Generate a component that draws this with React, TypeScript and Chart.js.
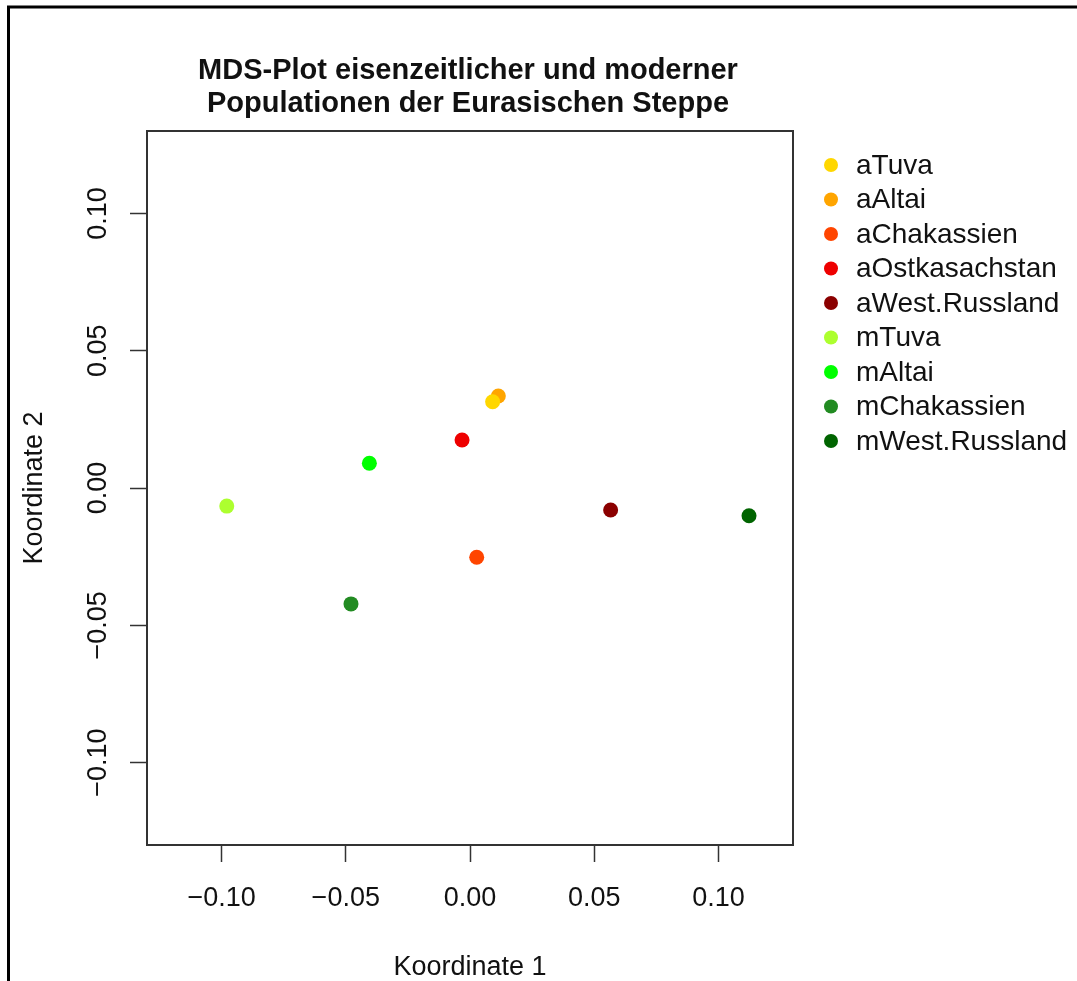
import React, { useEffect, useRef } from "react";
import { Chart, registerables } from "chart.js";

Chart.register(...registerables);

const categories = [
  "aTuva",
  "aAltai",
  "aChakassien",
  "aOstkasachstan",
  "aWest.Russland",
  "mTuva",
  "mAltai",
  "mChakassien",
  "mWest.Russland",
];
const xValues = [0.0091, 0.0114, 0.0027, -0.0032, 0.0566, -0.0979, -0.0405, -0.0479, 0.1123];
const yValues = [0.0314, 0.0335, -0.0252, 0.0175, -0.008, -0.0066, 0.009, -0.0422, -0.0101];
const colors = [
  "#FFD700",
  "#FFA500",
  "#FF4500",
  "#EE0000",
  "#8B0000",
  "#ADFF2F",
  "#00FF00",
  "#228B22",
  "#006400",
];
const xTickValues = [-0.1, -0.05, 0, 0.05, 0.1];
const yTickValues = [-0.1, -0.05, 0, 0.05, 0.1];
const titleLines = ["MDS-Plot eisenzeitlicher und moderner", "Populationen der Eurasischen Steppe"];
const xTitle = "Koordinate 1";
const yTitle = "Koordinate 2";

const FONT = "'Liberation Sans', Arial, sans-serif";

function fmt(v: number): string {
  if (Math.abs(v) < 1e-9) return "0.00";
  const s = Math.abs(v).toFixed(2);
  return v < 0 ? "\u2212" + s : s;
}

const decorPlugin = {
  id: "decor",
  afterDraw(chart: any) {
    const ctx = chart.ctx;
    const a = chart.chartArea;
    ctx.save();
    // plot box
    ctx.strokeStyle = "#333";
    ctx.lineWidth = 2;
    ctx.strokeRect(a.left, a.top, a.right - a.left, a.bottom - a.top);
    // outer frame (top and left)
    ctx.strokeStyle = "#000";
    ctx.lineWidth = 3;
    ctx.beginPath();
    ctx.moveTo(8.5, 981);
    ctx.lineTo(8.5, 7);
    ctx.lineTo(1077, 7);
    ctx.stroke();
    // title
    ctx.fillStyle = "#111";
    ctx.font = `bold 29px ${FONT}`;
    ctx.textAlign = "center";
    ctx.textBaseline = "middle";
    const cx = (a.left + a.right) / 2 - 2;
    titleLines.forEach((t, i) => ctx.fillText(t, cx, 71 + i * 33));
    // legend
    ctx.font = `28px ${FONT}`;
    ctx.textAlign = "left";
    categories.forEach((c, i) => {
      const y = 165 + i * 34.5;
      ctx.fillStyle = colors[i];
      ctx.beginPath();
      ctx.arc(831, y, 7, 0, Math.PI * 2);
      ctx.fill();
      ctx.fillStyle = "#111";
      ctx.fillText(c, 856, y + 1);
    });
    ctx.restore();
  },
};

export default function App() {
  const ref = useRef<HTMLCanvasElement>(null);
  useEffect(() => {
    if (!ref.current) return;
    const chart = new Chart(ref.current, {
      type: "scatter",
      data: {
        datasets: categories.map((c, i) => ({
          label: c,
          data: [{ x: xValues[i], y: yValues[i] }],
          backgroundColor: colors[i],
          borderColor: colors[i],
          borderWidth: 0,
          pointRadius: 7.5,
          pointHoverRadius: 7.5,
        })),
      },
      options: {
        responsive: false,
        animation: false,
        devicePixelRatio: 1,
        layout: { padding: { top: 131, right: 284, bottom: 0, left: 0 } },
        plugins: { legend: { display: false }, title: { display: false }, tooltip: { enabled: false } },
        scales: {
          x: {
            type: "linear",
            min: -0.13,
            max: 0.13,
            afterBuildTicks: (s: any) => {
              s.ticks = xTickValues.map((v) => ({ value: v }));
            },
            afterFit: (s: any) => {
              s.height = 136;
            },
            border: { display: false },
            grid: { drawOnChartArea: false, drawTicks: true, tickLength: 17, tickColor: "#333", tickWidth: 1.5 },
            ticks: {
              color: "#111",
              font: { family: FONT, size: 27 },
              padding: 20,
              maxRotation: 0,
              minRotation: 0,
              callback: (v: any) => fmt(Number(v)),
            },
            title: {
              display: true,
              text: xTitle,
              color: "#111",
              font: { family: FONT, size: 27, lineHeight: 1 },
              padding: { top: 0, bottom: 0 },
            },
          },
          y: {
            type: "linear",
            min: -0.13,
            max: 0.13,
            afterBuildTicks: (s: any) => {
              s.ticks = yTickValues.map((v) => ({ value: v }));
            },
            afterFit: (s: any) => {
              s.width = 147;
            },
            border: { display: false },
            grid: { drawOnChartArea: false, drawTicks: true, tickLength: 17, tickColor: "#333", tickWidth: 1.5 },
            ticks: {
              color: "#111",
              font: { family: FONT, size: 27 },
              padding: -3,
              minRotation: 90,
              maxRotation: 90,
              crossAlign: "center",
              callback: (v: any) => fmt(Number(v)),
            },
            title: {
              display: true,
              text: yTitle,
              color: "#111",
              font: { family: FONT, size: 27, lineHeight: 1 },
              padding: { top: 21, bottom: 0 },
            },
          },
        },
      },
      plugins: [decorPlugin],
    } as any);
    return () => chart.destroy();
  }, []);
  return (
    <div style={{ position: "fixed", left: 0, top: 0, width: 1077, height: 981, background: "#fff" }}>
      <canvas ref={ref} width={1077} height={981} style={{ display: "block", width: 1077, height: 981 }} />
    </div>
  );
}
